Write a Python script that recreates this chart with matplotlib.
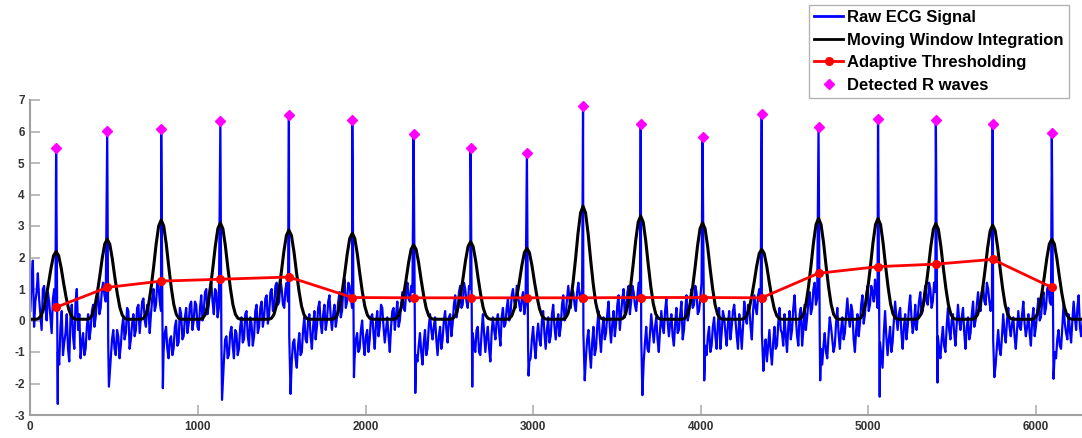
import matplotlib
matplotlib.use("Agg")
import matplotlib.pyplot as plt

# ---------------- data ----------------
# R-peak sample positions and heights (Detected R waves)
r_pos = [154, 459, 781, 1134, 1543, 1921, 2287, 2627, 2963, 3298, 3642,
         4011, 4364, 4703, 5058, 5403, 5742, 6095]
r_amp = [5.47, 6.02, 6.08, 6.32, 6.53, 6.37, 5.92, 5.48, 5.33, 6.81, 6.25,
         5.82, 6.55, 6.13, 6.41, 6.37, 6.24, 5.94]
# S-wave dip right after each R peak
s_dip = [-2.65, -2.1, -2.15, -2.52, -2.33, -1.8, -2.3, -2.1, -1.75, -1.9, -2.37,
         -1.9, -1.6, -1.9, -2.42, -1.97, -1.8, -1.85]
# moving window integration peak heights
mwi_peak = [2.19, 2.58, 3.19, 3.10, 2.87, 2.77, 2.40, 2.50, 2.29, 3.63, 3.32,
            3.10, 2.26, 3.24, 3.24, 3.08, 3.03, 2.58]
mwi_base = 0.04
# normalised bump profile (offsets in samples)
bump_off = [-120, -105, -90, -75, -60, -45, -30, -15, 0, 15, 30, 45, 60, 75, 90, 105, 120]
bump_val = [0.0, 0.01, 0.05, 0.15, 0.32, 0.53, 0.76, 0.94, 1.0, 0.94, 0.76, 0.53,
            0.32, 0.15, 0.05, 0.01, 0.0]
# adaptive threshold at each detected beat
thr = [0.42, 1.05, 1.25, 1.31, 1.38, 0.73, 0.72, 0.72, 0.72, 0.72, 0.73,
       0.73, 0.72, 1.50, 1.71, 1.79, 1.94, 1.05]

# raw ECG background: values at samples 0, 15, 30, ... 6300
raw_step = 15
raw_vals = [
    0.3, 1.9, 0.6, 1.5, 0.2, 1.0, 0.4, 0.9, 0.1, 0.7, 0.5, -1.0, -0.2, -1.1, -0.4, -0.9, 0.1, -0.5, 0.6, -0.3,
    -1.2, -0.4, -0.9, 0.2, -0.3, 0.5, 0.1, 0.9, 0.4, 1.2, 0.6, -0.8, -1.2, -0.3, -1.1, -0.5, -0.8, 0.1, -0.4, 0.3,
    -0.6, 0.2, -0.3, 0.5, 0.1, 0.7, -0.2, 0.4, 0.2, 1.0, 0.5, 1.1, 0.3, -1.0, -0.2, -1.2, -0.5, -0.9, 0.0, -0.7,
    0.2, -0.5, 0.4, -0.1, 0.6, 0.0, 0.5, -0.3, 0.8, 0.3, 1.0, 0.5, 1.2, 0.2, 0.9, 0.4, -0.6, -1.3, -0.5, -1.1,
    -0.2, -1.2, -0.4, -0.9, 0.1, -0.6, 0.3, -0.8, -0.1, -0.5, 0.5, -0.2, 0.6, 0.1, 0.8, 0.2, 1.0, 0.4, 1.2, 0.6,
    1.0, 0.4, 1.2, -0.5, -1.3, -0.6, -1.5, -0.4, -1.0, 0.1, -0.7, 0.2, -0.9, 0.3, -0.2, 0.6, -0.4, 0.5, 0.0, 0.8,
    -0.3, 0.5, 0.1, 0.9, 0.3, 1.3, 0.6, 1.1, 0.4, -1.2, -0.4, -0.9, 0.0, -1.1, -0.3, -0.6, 0.2, -0.9, 0.3, -0.2,
    0.4, -0.7, 0.1, -1.0, 0.3, -0.3, 0.6, 0.0, 0.9, 0.3, 1.2, 0.6, 0.9, -0.6, -1.3, -0.4, -1.4, -0.3, -0.9, 0.2,
    -0.6, 0.1, -1.1, -0.2, -0.6, 0.3, -0.7, 0.2, -0.1, 0.8, 0.3, 1.1, 0.5, 1.0, 0.4, 1.0, -0.4, -1.0, -0.2, -1.1,
    0.2, -1.0, -0.2, -1.3, 0.1, -0.6, 0.2, -0.8, 0.4, -0.1, 0.7, 0.2, 1.0, 0.4, 0.8, 0.3, 0.9, 0.5, -0.8, -1.2,
    -0.2, -1.2, -0.1, -0.8, 0.3, -0.9, 0.1, -0.5, 0.5, -0.6, 0.2, -0.2, 0.8, 0.2, 1.1, 0.4, 0.9, 0.3, 1.2, 0.6,
    -0.4, -1.2, -0.3, -1.5, -0.2, -0.9, 0.3, -1.0, 0.1, -0.4, 0.6, -0.7, 0.3, -0.1, 0.8, 0.2, 1.0, 0.4, 1.1, 0.6,
    0.9, 0.3, 1.2, -0.5, -1.3, -0.2, -1.0, 0.2, -0.7, 0.1, -1.0, 0.3, -0.4, 0.7, -0.5, 0.2, -0.8, 0.4, -0.3, 0.6,
    -0.3, 0.8, 0.2, 1.0, 0.5, 0.9, 0.3, 1.2, -0.6, -1.1, -0.2, -0.8, 0.1, -0.9, 0.4, -0.4, 0.1, -0.8, 0.3, -0.2,
    0.5, -0.5, 0.2, -0.9, 0.6, -0.1, 0.4, -0.6, 0.8, 0.2, 1.0, -0.4, -1.0, -1.3, -0.3, -1.4, -0.2, -0.8, 0.4, -0.4,
    0.2, -1.0, 0.3, -0.3, 0.8, -0.5, 0.2, -0.8, 0.5, 0.1, 0.9, 0.4, 1.2, 0.7, -0.3, -1.4, -0.4, -1.2, 0.1, -0.6,
    -0.8, 0.4, -0.9, 0.1, -0.4, 0.7, -0.2, 0.3, -1.0, 0.2, -0.1, 0.8, 0.2, 1.1, 0.5, 0.9, 1.3, 0.4, -0.7, -1.5,
    0.3, -1.1, -0.2, -0.7, 0.6, -0.3, 0.4, -0.9, 0.2, -0.2, 0.8, -0.4, 0.5, 0.1, 0.9, 0.3, 1.1, 0.5, 1.0, 0.6,
    0.9, -0.5, -1.2, -0.2, -1.0, 0.4, -0.6, 0.2, -0.8, 0.5, -0.3, 0.4, -0.9, 0.1, -0.4, 0.6, 0.0, 0.9, 0.3, 1.1,
    0.5, 1.0, 0.3, -0.6, -1.4, -0.3, -1.1, 0.2, -0.7, 0.4, -0.5, 0.1, -0.9, 0.3, -0.3, 0.6, -0.5, 0.2, -0.8, 0.4,
    -0.2, 0.7, 0.1, 0.9, 0.4, 1.1, 0.5, -0.7, -1.2, -0.3, -0.9, 0.5, -0.4, 0.2, -0.7, 0.6, -0.3, 0.8, -0.5, 0.3,
    0.5,
]
# raw ECG values at the in-between samples 7.5, 22.5, 37.5, ...
raw_mid = [
    1.2, -0.2, 0.9, 0.7, -0.3, 1.1, 0.0, 0.6, -0.4, 1.0, 0.0, -1.4, 0.3, -0.7, 0.2, -1.3, 0.5, -0.9, 1.0, 0.2,
    -0.7, -1.1, -0.2, -0.6, 0.3, -0.2, 0.6, 0.2, 1.0, 0.8, 0.0, -1.5, -0.6, -0.9, -0.3, -1.2, -0.2, -0.6, 0.4, -0.9,
    -0.1, -0.5, 0.4, -0.4, 0.6, 0.0, 0.5, -0.4, 0.7, 0.3, 1.2, 0.6, 0.0, -0.4, -0.9, -0.6, -1.1, -0.2, -0.8, 0.4,
    -0.6, 0.1, -0.4, 0.5, -0.3, 0.6, -0.2, 0.4, 0.0, 0.9, 0.2, 1.1, 0.6, 1.0, 0.1, 0.0, 0.0, -0.6, -1.2, -0.4,
    -0.8, -0.3, -1.1, -0.2, -0.7, 0.2, -0.5, 0.1, -0.8, 0.3, -0.4, 0.4, -0.2, 0.7, -0.1, 0.9, 0.3, 1.1, 0.5, 1.3,
    0.5, 1.0, 0.6, 0.0, -0.7, -1.2, -0.8, -1.1, -0.3, -0.6, 0.0, -0.5, -0.2, -0.6, 0.4, -0.1, 0.2, -0.3, 0.6, 0.1,
    0.2, -0.2, 0.6, 0.1, 1.0, 0.4, 1.2, 0.7, 0.0, -0.6, -1.0, -0.3, -0.7, -0.5, -1.0, 0.1, -0.4, -0.1, -0.5, 0.5,
    -0.2, -0.3, -0.5, -0.2, 0.4, 0.2, -0.2, 0.5, 0.4, 0.9, 0.7, 1.1, 0.0, -1.1, -0.8, -1.0, -0.7, -1.1, -0.2, -0.3,
    -0.2, -0.6, -0.5, -0.9, 0.0, -0.3, 0.1, -0.5, 0.5, 0.1, 0.9, 0.4, 1.2, 0.6, 1.1, 0.0, -0.8, -0.3, -1.0, -0.4,
    -0.4, -0.5, -0.9, -0.4, -0.3, 0.0, -0.4, 0.1, -0.2, 0.4, 0.0, 0.8, 0.6, 1.1, 0.5, 0.7, 0.2, 0.0, -1.3, -0.6,
    -0.8, -0.5, -0.6, 0.0, -0.4, -0.3, -0.7, 0.2, -0.2, -0.1, -0.5, 0.5, 0.0, 0.7, 0.6, 1.0, 0.5, 0.9, 0.8, 1.0,
    0.0, -0.6, -1.0, -0.7, -1.1, -0.2, -0.5, -0.3, -0.6, 0.2, -0.2, -0.1, -0.5, 0.5, -0.3, 0.7, 0.1, 0.9, 0.2, 1.1,
    0.5, 0.8, 0.8, 0.0, -0.7, -0.9, -0.4, -0.3, -0.2, -0.6, -0.3, -0.2, 0.3, 0.0, -0.1, -0.5, -0.1, -0.4, 0.2, -0.6,
    0.3, 0.0, 0.7, 0.4, 1.1, 0.2, 0.7, 0.0, -0.8, -0.5, -1.0, -0.2, -0.5, -0.1, -0.9, 0.3, -0.4, -0.1, -0.6, 0.3,
    0.0, -0.9, -0.3, -0.2, 0.1, 0.5, -0.2, 0.3, 0.4, 0.8, 0.6, 0.0, -0.6, -0.8, -1.0, -0.7, -0.9, -0.1, -0.3, -0.8,
    -0.5, -0.2, -0.6, 0.4, 0.1, -0.8, 0.4, -0.3, -0.3, 0.6, 0.2, 1.0, 0.5, 0.0, -0.9, -0.8, -1.0, -0.5, -0.2, -1.0,
    -0.1, -0.4, -0.3, -0.6, 0.2, 0.1, 0.5, -0.6, -0.3, -0.5, 0.5, -0.1, 0.8, 0.3, 1.1, 0.6, 0.9, 0.0, -1.1, -0.4,
    -0.5, -0.6, -1.0, 0.0, 0.1, 0.2, -0.4, -0.2, -0.6, 0.4, 0.1, -0.1, -0.3, 0.6, 0.2, 0.8, 0.6, 1.2, 0.4, 1.2,
    0.0, -0.9, -0.6, -0.8, -0.2, -0.3, 0.0, -0.4, -0.1, 0.0, 0.1, -0.4, -0.2, -0.6, 0.2, -0.2, 0.5, 0.4, 0.9, 0.6,
    1.2, 0.6, 0.7, 0.0, -0.8, -0.9, -0.5, -0.4, 0.0, -0.2, -0.1, -0.5, -0.3, -0.2, 0.2, -0.1, -0.2, -0.4, 0.0, -0.5,
    0.3, 0.0, 0.6, 0.2, 1.0, 0.6, 0.0, -1.0, -0.6, -0.8, -0.2, -0.1, -0.6, -0.3, 0.0, 0.1, 0.4, -0.2, -0.1, 0.7,
]

x_ticks = [0, 1000, 2000, 3000, 4000, 5000, 6000]
y_ticks = [-3, -2, -1, 0, 1, 2, 3, 4, 5, 6, 7]

# ---------------- assemble series ----------------
pts = {i * raw_step: v for i, v in enumerate(raw_vals)}
for i, v in enumerate(raw_mid):
    xm = i * raw_step + raw_step / 2
    if any(p - 4 <= xm <= p + 14 for p in r_pos):
        continue  # keep the QRS spike clean
    pts[xm] = v
for p, a, d in zip(r_pos, r_amp, s_dip):
    pts[p] = a
    pts[p + 10] = d
ecg_x = sorted(pts)
ecg_y = [pts[k] for k in ecg_x]

mwi_x = [0]
mwi_y = [mwi_base]
for p, h in zip(r_pos, mwi_peak):
    for o, v in zip(bump_off, bump_val):
        mwi_x.append(p + o)
        mwi_y.append(mwi_base + (h - mwi_base) * v)
mwi_x.append(6300)
mwi_y.append(mwi_base)

# ---------------- plot ----------------
plt.rcParams['font.family'] = ['Liberation Sans', 'DejaVu Sans']
plt.rcParams['axes.unicode_minus'] = False
fig = plt.figure(figsize=(10.82, 4.38), dpi=100)
ax = fig.add_axes([30.3 / 1082, 23 / 438, 1051.7 / 1082, 315 / 438])

l1, = ax.plot(ecg_x, ecg_y, color='#0000ff', lw=1.6, label='Raw ECG Signal')
l2, = ax.plot(mwi_x, mwi_y, color='black', lw=2.2, label='Moving Window Integration')
l3, = ax.plot(r_pos, thr, color='#ff0000', lw=2.0, marker='o', ms=5.5,
              label='Adaptive Thresholding')
l4, = ax.plot(r_pos, r_amp, ls='none', marker='D', ms=5, color='#ff00ff',
              label='Detected R waves')

ax.set_xlim(0, 6275)
ax.set_ylim(-3, 7)
ax.set_xticks(x_ticks)
ax.set_yticks(y_ticks)
for s in ['top', 'right']:
    ax.spines[s].set_visible(False)
for s in ['left', 'bottom']:
    ax.spines[s].set_color('#a0a0a0')
    ax.spines[s].set_linewidth(1.5)
ax.tick_params(direction='in', length=7, width=1.2, color='#b0b0b0',
               labelsize=8.5, labelcolor='#333333', pad=4)
for lab in ax.get_xticklabels() + ax.get_yticklabels():
    lab.set_fontweight('bold')

leg = fig.legend(handles=[l1, l2, l3, l4], loc='upper left',
                 bbox_to_anchor=(809 / 1082, 1 - 5 / 438),
                 prop={'weight': 'bold', 'size': 12}, frameon=True, fancybox=False,
                 edgecolor='#a0a0a0', handlelength=1.75, handletextpad=0.25,
                 labelspacing=0.45, borderpad=0.3, borderaxespad=0)
leg.get_frame().set_linewidth(1.0)
for h in leg.get_lines():
    h.set_linewidth(2.0)

fig.savefig('out.png', dpi=100)
